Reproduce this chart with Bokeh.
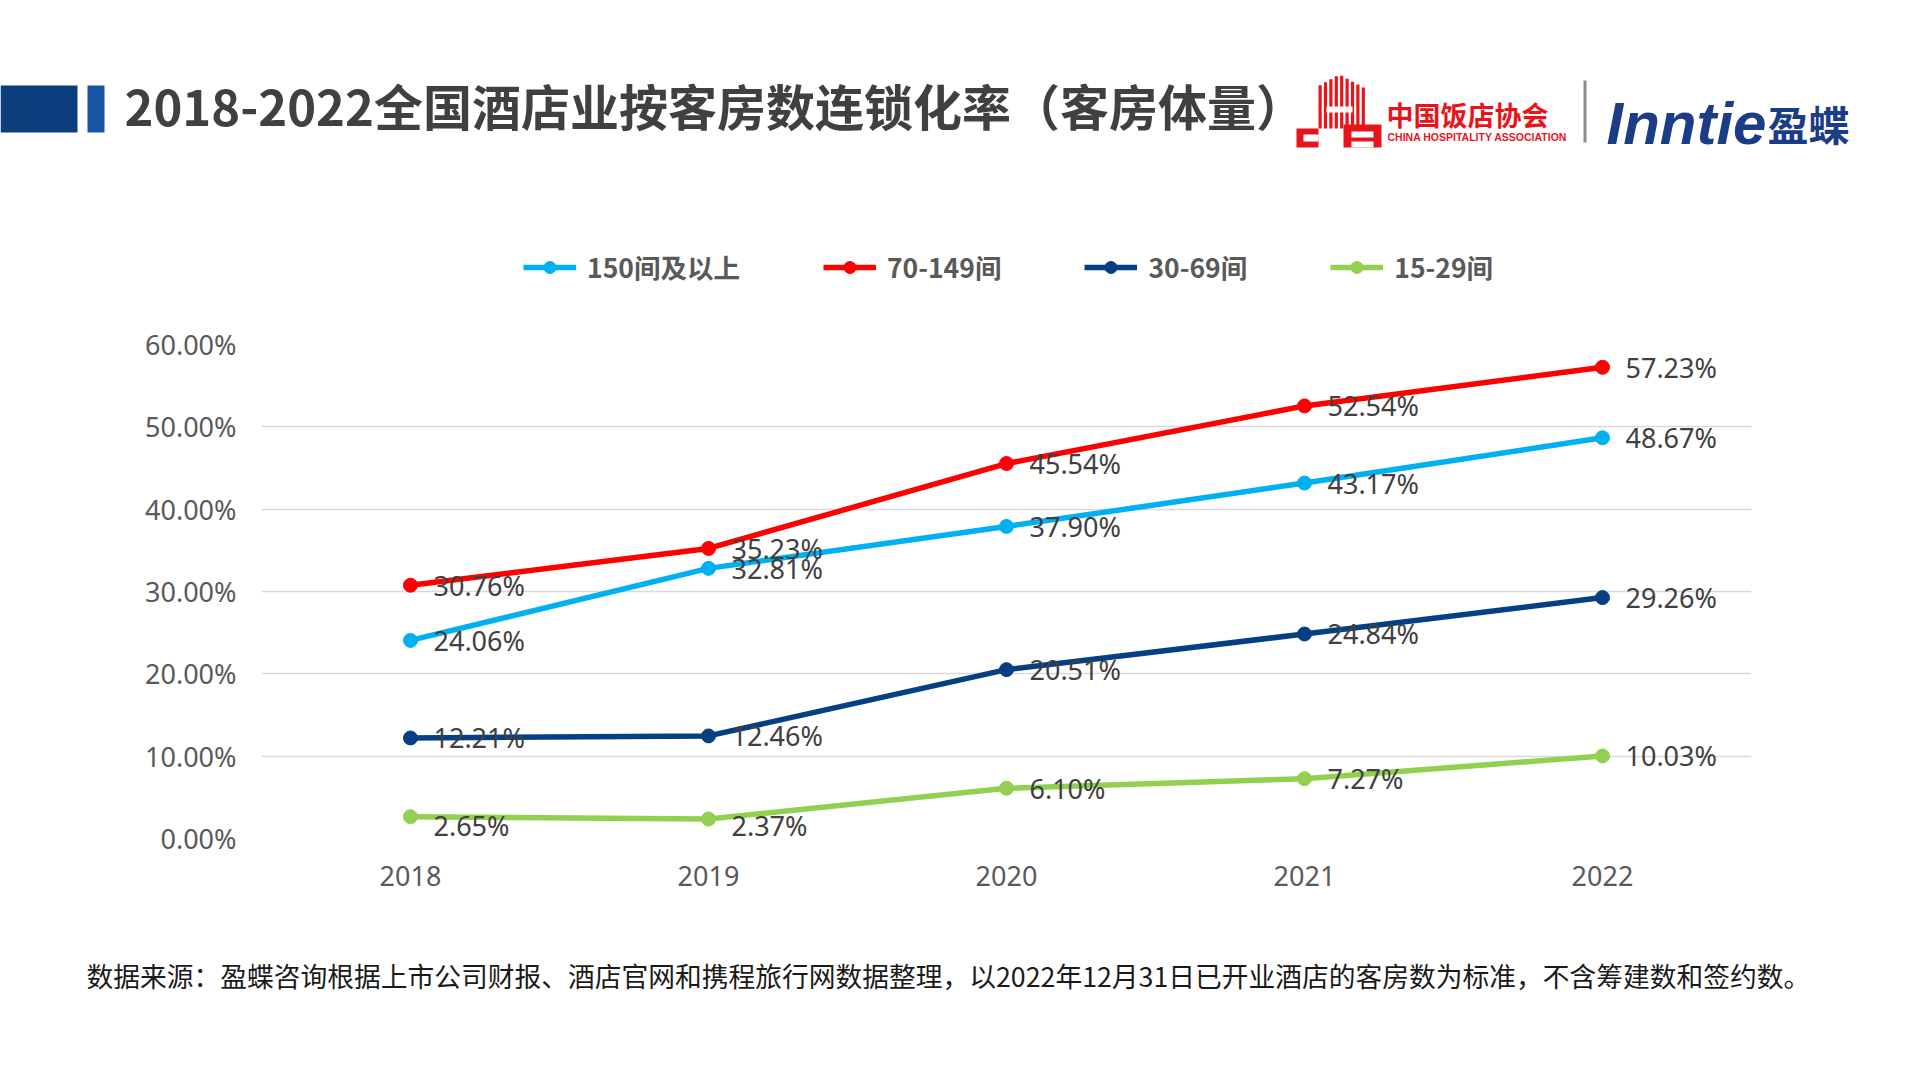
from bokeh.plotting import figure
from bokeh.models import (ColumnDataSource, Range1d, FactorRange, SingleIntervalTicker,
                          PrintfTickFormatter, Legend, LegendItem)
from bokeh.layouts import column
from bokeh.core.properties import value
from bokeh.embed import file_html
from bokeh.resources import INLINE

# ---------------- data ----------------
years = ["2018", "2019", "2020", "2021", "2022"]
series_names = ["150间及以上", "70-149间", "30-69间", "15-29间"]
s150 = [24.06, 32.81, 37.90, 43.17, 48.67]
s70 = [30.76, 35.23, 45.54, 52.54, 57.23]
s30 = [12.21, 12.46, 20.51, 24.84, 29.26]
s15 = [2.65, 2.37, 6.10, 7.27, 10.03]
y_ticks = [0, 10, 20, 30, 40, 50, 60]

title_text = "2018-2022全国酒店业按客房数连锁化率（客房体量）"
footer_text = "数据来源：盈蝶咨询根据上市公司财报、酒店官网和携程旅行网数据整理，以2022年12月31日已开业酒店的客房数为标准，不含筹建数和签约数。"

colors = ["#00B0F0", "#FF0000", "#063F82", "#92D050"]
CJK = "Noto Sans CJK SC"
LAT = "Noto Sans"

# ---------------- header (title, logos, legend) ----------------
W = 1920
HH = 300
head = figure(width=W, height=HH, x_range=Range1d(0, W), y_range=Range1d(HH, 0),
              x_axis_type=None, y_axis_type=None, toolbar_location=None,
              output_backend="svg", min_border=0, outline_line_color=None,
              frame_align=False)
head.grid.visible = False
head.quad(left=[0, 87], right=[77, 104], top=[85, 85], bottom=[132, 132],
          fill_color=["#0C3D7D", "#1A54A4"], line_color=None)
head.text(x=[124], y=[104], text=[title_text], text_baseline="middle", text_align="left",
          text_font=value(CJK), text_font_style="bold", text_font_size="49px",
          text_color="#404040")

# CHA logo (decorative)
red = "#E8141B"
sx = [1318 + i * 5.4 for i in range(9)]
head.quad(left=[x for x in sx], right=[x + 3.2 for x in sx],
          top=[74 + abs(x + 1.6 - 1339) * 0.55 for x in sx], bottom=[128] * len(sx),
          fill_color=red, line_color=None)
head.quad(left=[1326], right=[1352], top=[106], bottom=[112], fill_color="white", line_color=None)
head.quad(left=[1296], right=[1318], top=[128], bottom=[147], fill_color=red, line_color=None)
head.quad(left=[1303], right=[1318], top=[134], bottom=[141], fill_color="white", line_color=None)
head.quad(left=[1343], right=[1381], top=[124], bottom=[147], fill_color=red, line_color=None)
head.quad(left=[1351], right=[1373], top=[131], bottom=[137], fill_color="white", line_color=None)
head.quad(left=[1351], right=[1373], top=[141], bottom=[147], fill_color="white", line_color=None)
head.text(x=[1386], y=[114], text=["中国饭店协会"], text_baseline="middle", text_align="left",
          text_font=value(CJK), text_font_style="bold", text_font_size="27px", text_color=red)
head.text(x=[1387], y=[136], text=["CHINA HOSPITALITY ASSOCIATION"], text_baseline="middle",
          text_align="left", text_font=value("Liberation Sans"), text_font_style="bold",
          text_font_size="10.5px", text_color=red)
head.quad(left=[1583], right=[1586], top=[80], bottom=[142], fill_color="#8C8C8C", line_color=None)
head.text(x=[1606], y=[123], text=["Inntie"], text_baseline="middle", text_align="left",
          text_font=value("Liberation Sans"), text_font_style="bold italic",
          text_font_size="60px", text_color="#1B3C87")
head.text(x=[1767], y=[122], text=["盈蝶"], text_baseline="middle", text_align="left",
          text_font=value(CJK), text_font_style="bold", text_font_size="41px",
          text_color="#1B3C87")

# legend swatches (styled like the chart's series; their own points lie off-canvas)
items = []
for name, col in zip(series_names, colors):
    r1 = head.line(x=[-200, -150], y=[-200, -200], line_color=col, line_width=5.5)
    r2 = head.scatter(x=[-200], y=[-200], marker="circle", size=14, fill_color=col, line_color=col)
    items.append(LegendItem(label=name, renderers=[r1, r2]))
legend = Legend(items=items, orientation="horizontal", location=(523, 14),
                spacing=83, glyph_width=53, glyph_height=30, label_height=30,
                label_standoff=11, padding=0, margin=0,
                border_line_color=None, background_fill_alpha=0,
                label_text_font=CJK, label_text_font_style="bold",
                label_text_font_size="26.5px", label_text_color="#595959")
head.add_layout(legend, "center")

# ---------------- chart ----------------
CH = 630
p = figure(width=W, height=CH, x_range=FactorRange(*years), y_range=Range1d(0, 60),
           toolbar_location=None, output_backend="svg",
           min_border_left=261, min_border_right=169, min_border_top=44, min_border_bottom=92,
           outline_line_color=None, frame_align=False)
p.x_range.range_padding = 0

p.xgrid.visible = False
p.ygrid.grid_line_color = "#D9D9D9"
p.ygrid.grid_line_width = 1.5
p.yaxis.ticker = SingleIntervalTicker(interval=10)
p.yaxis.formatter = PrintfTickFormatter(format="%.2f%%")
for ax in (p.xaxis[0], p.yaxis[0]):
    ax.axis_line_color = None
    ax.major_tick_line_color = None
    ax.minor_tick_line_color = None
    ax.major_label_text_font = LAT
    ax.major_label_text_font_size = "27px"
    ax.major_label_text_color = "#595959"
p.yaxis.major_label_standoff = 19
p.xaxis.major_label_standoff = 21

all_series = [s150, s70, s30, s15]
for name, vals, col in zip(series_names, all_series, colors):
    src = ColumnDataSource(dict(x=years, y=vals))
    p.line("x", "y", source=src, line_color=col, line_width=5.5)
    p.scatter("x", "y", source=src, marker="circle", size=14, fill_color=col, line_color=col)

# data labels
for idx, (vals, col) in enumerate(zip(all_series, colors)):
    dy = [0] * len(vals)
    if idx == 3:
        dy = [9, 7] + [0] * (len(vals) - 2)
    src = ColumnDataSource(dict(x=years, y=vals, t=["%.2f%%" % v for v in vals], dy=dy))
    p.text("x", "y", text="t", source=src, x_offset=23, y_offset="dy",
           text_baseline="middle", text_align="left", text_font=value(LAT),
           text_font_size="27px", text_color="#404040")

# ---------------- footer ----------------
FH = 1080 - HH - CH
foot = figure(width=W, height=FH, x_range=Range1d(0, W), y_range=Range1d(FH, 0),
              x_axis_type=None, y_axis_type=None, toolbar_location=None,
              output_backend="svg", min_border=0, outline_line_color=None,
              frame_align=False)
foot.grid.visible = False
foot.text(x=[86], y=[45], text=[footer_text], text_baseline="middle", text_align="left",
          text_font=value(CJK), text_font_size="26.75px", text_color="#1A1A1A")

layout = column(head, p, foot, spacing=0)
open("out.html", "w").write(file_html(layout, INLINE))
